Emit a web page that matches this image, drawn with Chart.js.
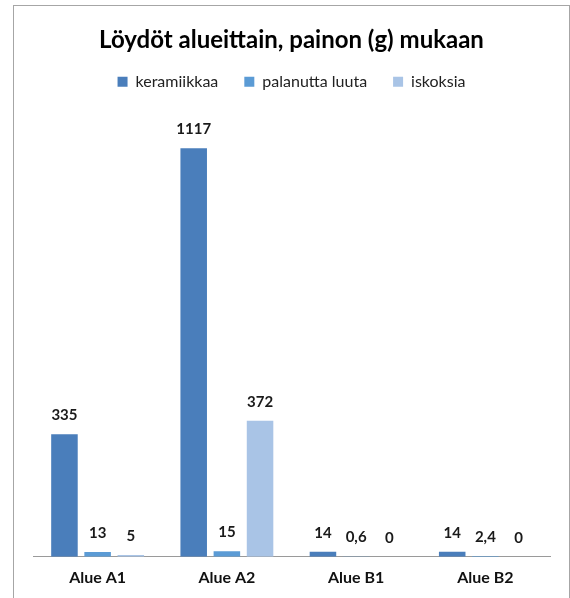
<!DOCTYPE html>
<html>
<head>
<meta charset="utf-8">
<script src="https://cdn.jsdelivr.net/npm/chart.js@4"></script>
<style>
  html, body { margin: 0; padding: 0; background: #fff; }
  #wrap { width: 570px; height: 598px; position: relative; }
</style>
</head>
<body>
<div id="wrap"><canvas id="chart" width="570" height="598"></canvas></div>
<script>
// data
const categories = ["Alue A1", "Alue A2", "Alue B1", "Alue B2"];
const keramiikkaa = [335, 1117, 14, 14];
const palanuttaLuuta = [13, 15, 0.6, 2.4];
const iskoksia = [5, 372, 0, 0];

const FONT = "Lato, 'Open Sans', sans-serif";

// outer frame like the spreadsheet chart border
const framePlugin = {
  id: "frame",
  beforeDraw(chart) {
    const c = chart.ctx;
    c.save();
    c.fillStyle = "#fff";
    c.fillRect(0, 0, chart.width, chart.height);
    c.strokeStyle = "#a6a6a6";
    c.lineWidth = 1;
    c.strokeRect(13.5, 5.5, 556, 700);
    c.restore();
  },
};

// extra room under the legend
const legendMargin = {
  id: "legendMargin",
  beforeInit(chart) {
    const fit = chart.legend.fit;
    chart.legend.fit = function () {
      fit.bind(chart.legend)();
      this.height += 18;
    };
  },
};

// value labels above bars (decimal comma)
const valueLabels = {
  id: "valueLabels",
  afterDatasetsDraw(chart) {
    const c = chart.ctx;
    c.save();
    c.font = "bold 15px " + FONT;
    c.fillStyle = "#1a1a1a";
    c.textAlign = "center";
    c.textBaseline = "middle";
    chart.data.datasets.forEach((ds, i) => {
      const meta = chart.getDatasetMeta(i);
      meta.data.forEach((bar, j) => {
        const txt = String(ds.data[j]).replace(".", ",");
        c.fillText(txt, bar.x, bar.y - 19);
      });
    });
    c.restore();
  },
};

new Chart(document.getElementById("chart"), {
  type: "bar",
  data: {
    labels: categories,
    datasets: [
      { label: "keramiikkaa", data: keramiikkaa, backgroundColor: "#4a7ebb" },
      { label: "palanutta luuta", data: palanuttaLuuta, backgroundColor: "#5b9bd5" },
      { label: "iskoksia", data: iskoksia, backgroundColor: "#a9c4e6" },
    ],
  },
  options: {
    responsive: false,
    animation: false,
    categoryPercentage: 0.77,
    barPercentage: 0.8,
    layout: {
      padding: { left: 33, right: 20, top: 8, bottom: 0 },
    },
    plugins: {
      title: {
        display: true,
        text: "Löydöt alueittain, painon (g) mukaan",
        color: "#000",
        font: { family: FONT, size: 24, weight: "bold" },
        padding: { top: 18, bottom: -7 },
      },
      legend: {
        display: true,
        position: "top",
        labels: {
          boxWidth: 10,
          boxHeight: 10,
          color: "#222",
          font: { family: FONT, size: 16 },
          padding: 26,
        },
      },
      tooltip: { enabled: false },
    },
    scales: {
      x: {
        grid: { display: false, drawTicks: false },
        border: { display: true, color: "#9a9a9a" },
        ticks: {
          color: "#111",
          font: { family: FONT, size: 16, weight: "bold" },
          padding: 11,
        },
      },
      y: {
        display: false,
        min: 0,
        max: 1200,
      },
    },
  },
  plugins: [framePlugin, legendMargin, valueLabels],
});
</script>
</body>
</html>
